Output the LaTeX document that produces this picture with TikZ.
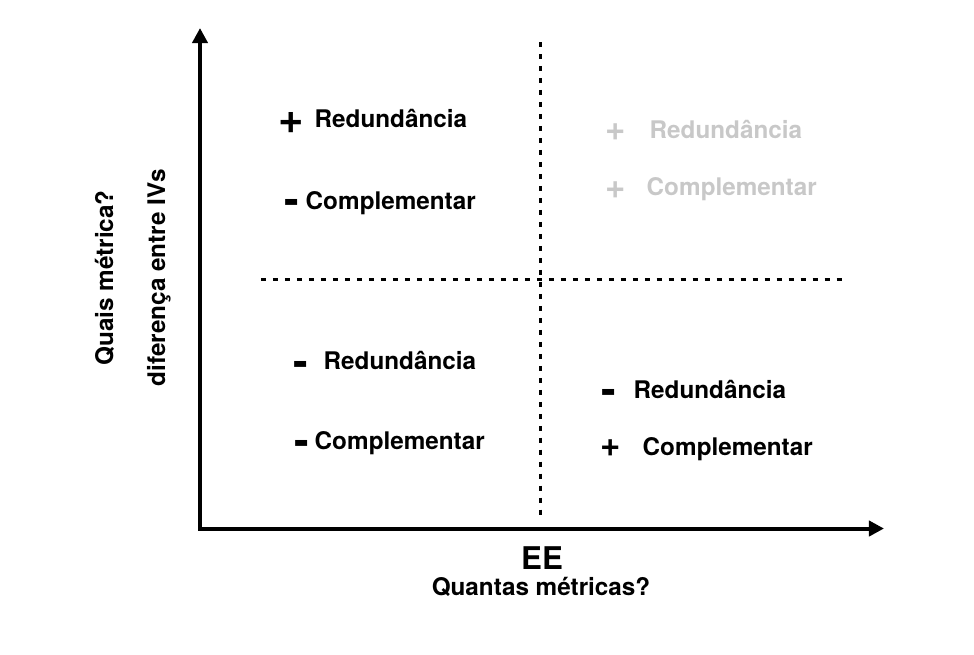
\documentclass[tikz,border=0pt]{standalone}
\usepackage{fontspec}
\setmainfont{TeX Gyre Heros}
\usetikzlibrary{arrows.meta}
\definecolor{fadegray}{RGB}{200,200,200}
\newcommand{\termsize}{\fontsize{6.9}{8}\selectfont\bfseries}
\newcommand{\signsize}{\fontsize{9.9}{11}\selectfont\bfseries}
\newcommand{\bigsignsize}{\fontsize{12.4}{14}\selectfont\bfseries}
\newcommand{\dashsize}{\fontsize{12.5}{14}\selectfont\bfseries}

\begin{document}
\begin{tikzpicture}[x = 0.01cm, y = -0.01cm,
  term/.style = {anchor = base west, inner sep = 0pt, font = \termsize},
  plussign/.style = {inner sep = 0pt, font = \signsize},
  bigplus/.style = {inner sep = 0pt, font = \bigsignsize},
  minussign/.style = {inner sep = 0pt, font = \dashsize},
  axisline/.style = {line width = 1.14pt, {Triangle[width = 4.3pt, length = 4.3pt]}-{Triangle[width = 4.3pt, length = 4.3pt]}},
  divider/.style = {line width = 0.85pt, dash pattern = on 1.56pt off 1.85pt}]
\useasboundingbox (0,0) rectangle (974,654);
% axes
\coordinate (ytip) at (200,28);
\coordinate (origin) at (200,528.5);
\coordinate (xtip) at (884,528.5);
\draw [axisline] (ytip) -- (origin) -- (xtip);
% quadrant dividers
\coordinate (vtop) at (540.5,42);
\coordinate (vbot) at (540.5,516);
\coordinate (hleft) at (261,279);
\coordinate (hright) at (845,279);
\draw [divider] (vtop) -- (vbot);
\draw [divider] (hleft) -- (hright);
% upper left
\node[bigplus] (nwRedSign) at (291.5,123) {+};
\node[term] (nwRed) at (314,127.5) {Redundância};
\node[minussign] (nwComSign) at (291.5,207) {-};
\node[term] (nwCom) at (305,209) {Complementar};
% upper right
\node[plussign, text = fadegray] (neRedSign) at (616,132) {+};
\node[term, text = fadegray] (neRed) at (649,138) {Redundância};
\node[plussign, text = fadegray] (neComSign) at (616,190) {+};
\node[term, text = fadegray] (neCom) at (646,195) {Complementar};
% lower left
\node[minussign] (swRedSign) at (301,369) {-};
\node[term] (swRed) at (323,369) {Redundância};
\node[minussign] (swComSign) at (301.5,448) {-};
\node[term] (swCom) at (314,449) {Complementar};
% lower right
\node[minussign] (seRedSign) at (609,397) {-};
\node[term] (seRed) at (633,398.5) {Redundância};
\node[plussign] (seComSign) at (610.5,448) {+};
\node[term] (seCom) at (642,455) {Complementar};
% axis titles
\node[anchor = base, inner sep = 0pt, font = \fontsize{8.9}{10}\selectfont\bfseries] (xname) at (542,569) {EE};
\node[anchor = base, inner sep = 0pt, font = \termsize] (xquestion) at (541,595) {Quantas métricas?};
\node[anchor = base, inner sep = 0pt, rotate = 90, font = \termsize] (yquestion) at (113,278) {Quais métrica?};
\node[anchor = base, inner sep = 0pt, rotate = 90, font = \termsize] (yname) at (165,277.5) {diferença entre IVs};
\end{tikzpicture}
\end{document}
